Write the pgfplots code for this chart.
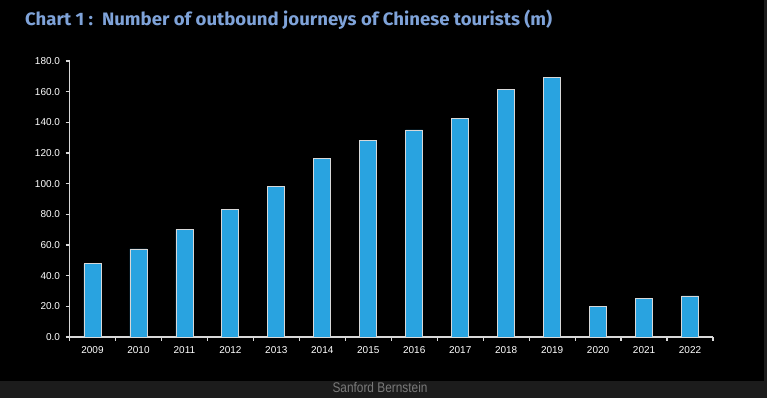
\documentclass[border=0pt]{standalone}
\usepackage{pgfplots}
\pgfplotsset{compat=1.18}
\usepackage{fontspec}
\setmainfont{Liberation Sans}
\newfontfamily\titlefont{Fira Sans}
\definecolor{barblue}{HTML}{29A3E0}
\definecolor{titleblue}{HTML}{7FA3D9}
\definecolor{axisgrey}{HTML}{D8D8D8}
\definecolor{stripgrey}{HTML}{1C1C1C}
\definecolor{srcgrey}{HTML}{7A7A7A}
\begin{document}
\begin{tikzpicture}[x=1pt,y=1pt]
\useasboundingbox (0,0) rectangle (767,398);
\fill[black] (0,0) rectangle (767,398);
\fill[stripgrey] (0,0) rectangle (767,17);
\fill[stripgrey] (764,0) rectangle (767,398);
\node[anchor=base west,inner sep=0,text=titleblue] at (25,372)
  {\resizebox{527pt}{\height}{\fontsize{18}{21}\titlefont\bfseries Chart 1 :\, Number of outbound journeys of Chinese tourists (m)}};
\node[anchor=base,inner sep=0,text=srcgrey] at (380,5.5)
  {\resizebox{95pt}{\height}{\fontsize{14}{16}\selectfont Sanford Bernstein}};
\begin{axis}[
  at={(69.5pt,61pt)}, anchor=south west,
  scale only axis, width=643.5pt, height=276pt,
  xmin=-0.5, xmax=13.5, ymin=0, ymax=180,
  axis x line*=bottom, axis y line*=left,
  axis line style={draw=axisgrey, line width=1.3pt, -},
  xtick={0,...,13},
  xticklabels={2009,2010,2011,2012,2013,2014,2015,2016,2017,2018,2019,2020,2021,2022},
  major x tick style={draw=none},
  minor xtick={-0.5,0.5,...,13.5},
  minor tick length=4pt,
  minor x tick style={draw=axisgrey, line width=1.2pt},
  ytick={0,20,...,180},
  major tick length=4pt,
  y tick style={draw=axisgrey, line width=1.2pt},
  tick align=outside,
  tick label style={font=\fontsize{10}{12}\selectfont, text=white},
  xticklabel style={yshift=-2pt},
  yticklabel style={xshift=-2pt},
  /pgf/number format/.cd, fixed, fixed zerofill, precision=1, 1000 sep={}, assume math mode=true,
  /pgfplots/.cd,
  ybar, bar width=17pt,
]
\addplot[fill=barblue, draw=axisgrey, line width=0.8pt] coordinates {
(0,47.7) (1,57.4) (2,70.2) (3,83.2) (4,98.2) (5,116.6) (6,127.9) (7,135.0) (8,142.7) (9,161.6) (10,169.1) (11,20.2) (12,25.3) (13,26.8)};
\end{axis}
\end{tikzpicture}
\end{document}
